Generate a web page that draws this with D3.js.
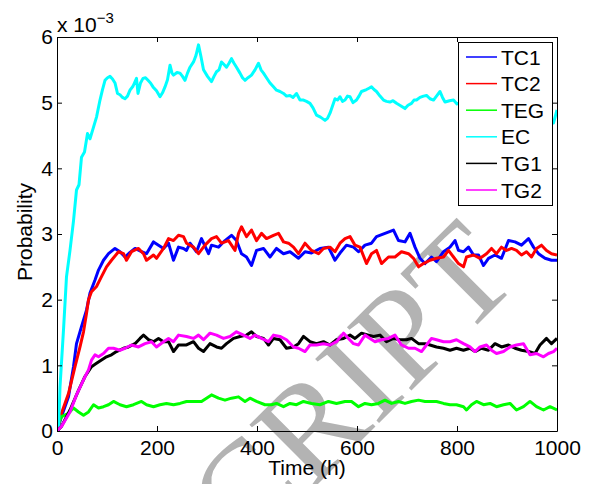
<!DOCTYPE html>
<html>
<head>
<meta charset="utf-8">
<script src="https://cdn.jsdelivr.net/npm/d3@7"></script>
<style>
  body { margin: 0; background: #fff; }
  svg { display: block; font-family: "Liberation Sans", Arial, sans-serif; }
  .axis text { font-size: 21px; fill: #000; }
  .axis path, .axis line { stroke: #000; stroke-width: 1; }
</style>
</head>
<body>
<div id="chart"></div>
<script>
// Series: [time (h), probability x 1e-3]
const TC1 = [[0,0],[9,0.22],[23,0.52],[33,0.98],[39,1.33],[49,1.59],[59,1.84],[66,2.1],[76,2.3],[83,2.45],[93,2.6],[103,2.7],[116,2.78],[126,2.73],[136,2.65],[146,2.72],[156,2.78],[169,2.73],[179,2.7],[193,2.88],[203,2.83],[213,2.78],[223,2.86],[233,2.6],[243,2.8],[253,2.78],[259,2.75],[266,2.86],[279,2.73],[289,2.93],[303,2.7],[309,2.83],[323,2.8],[336,2.9],[349,2.98],[359,2.9],[369,2.7],[379,2.65],[389,2.52],[399,2.75],[413,2.78],[426,2.65],[439,2.78],[453,2.7],[466,2.73],[483,2.63],[496,2.73],[509,2.71],[526,2.78],[543,2.8],[556,2.6],[566,2.71],[579,2.83],[593,2.8],[603,2.73],[616,2.83],[629,2.86],[639,2.96],[656,3.01],[673,3.06],[683,2.9],[696,2.88],[706,3.01],[716,2.8],[726,2.63],[736,2.55],[749,2.65],[759,2.58],[773,2.73],[786,2.8],[796,2.9],[803,2.75],[813,2.73],[823,2.8],[833,2.68],[843,2.68],[853,2.52],[863,2.63],[876,2.68],[889,2.63],[903,2.9],[916,2.88],[929,2.83],[943,2.93],[953,2.8],[963,2.7],[976,2.63],[989,2.6],[1000,2.6]];

const TC2 = [[0,0],[9,0.27],[23,0.57],[36,0.98],[46,1.28],[53,1.51],[59,1.79],[63,2.0],[69,2.12],[79,2.2],[89,2.35],[99,2.5],[109,2.6],[123,2.73],[133,2.7],[139,2.6],[149,2.73],[163,2.78],[173,2.7],[179,2.6],[193,2.68],[199,2.63],[213,2.78],[223,2.93],[233,2.9],[243,2.98],[253,2.96],[259,2.86],[273,2.8],[283,2.7],[296,2.83],[309,2.93],[319,2.96],[329,2.86],[343,2.9],[356,2.75],[363,3.01],[369,3.11],[379,2.96],[389,3.06],[399,2.9],[409,3.01],[419,2.93],[433,2.98],[443,3.01],[453,2.88],[463,2.86],[473,2.8],[483,2.7],[496,2.86],[509,2.75],[523,2.7],[533,2.78],[546,2.8],[556,2.73],[566,2.86],[576,2.93],[586,2.96],[596,2.83],[606,2.8],[619,2.55],[629,2.7],[639,2.75],[649,2.55],[663,2.65],[676,2.65],[689,2.73],[703,2.7],[713,2.63],[723,2.5],[733,2.55],[746,2.6],[759,2.63],[773,2.65],[783,2.75],[793,2.65],[803,2.55],[813,2.5],[819,2.65],[833,2.68],[846,2.63],[859,2.7],[869,2.78],[879,2.7],[889,2.8],[899,2.75],[909,2.78],[919,2.75],[929,2.68],[939,2.73],[949,2.65],[959,2.78],[969,2.83],[979,2.75],[989,2.7],[1000,2.68]];

const TEG = [[0,0],[3,0.12],[9,0.22],[23,0.27],[33,0.35],[43,0.29],[53,0.24],[63,0.29],[73,0.4],[83,0.35],[93,0.37],[103,0.4],[113,0.45],[126,0.4],[139,0.37],[153,0.4],[169,0.45],[179,0.4],[193,0.37],[206,0.4],[219,0.42],[233,0.4],[246,0.42],[259,0.45],[276,0.45],[289,0.45],[299,0.5],[309,0.55],[323,0.5],[336,0.47],[349,0.5],[363,0.52],[376,0.45],[386,0.5],[399,0.45],[416,0.4],[429,0.4],[439,0.42],[453,0.37],[466,0.42],[479,0.4],[493,0.45],[509,0.42],[526,0.4],[543,0.45],[559,0.42],[576,0.45],[589,0.45],[603,0.37],[616,0.42],[629,0.4],[643,0.42],[656,0.47],[669,0.42],[683,0.45],[696,0.42],[709,0.45],[723,0.47],[736,0.45],[749,0.45],[759,0.45],[773,0.42],[786,0.4],[799,0.4],[813,0.37],[819,0.32],[829,0.4],[839,0.45],[853,0.4],[866,0.42],[879,0.37],[893,0.4],[906,0.42],[919,0.32],[933,0.37],[946,0.45],[959,0.37],[973,0.32],[986,0.37],[1000,0.32]];

const EC = [[0,0],[3,0],[6,0.67],[13,1.54],[19,2.35],[26,2.75],[33,3.2],[39,3.67],[44,3.75],[49,4.17],[55,4.25],[61,4.53],[66,4.45],[72,4.6],[79,4.78],[86,5.04],[91,5.2],[96,5.34],[101,5.38],[106,5.4],[111,5.36],[116,5.3],[121,5.14],[126,5.12],[131,5.08],[136,5.06],[141,5.1],[146,5.19],[152,5.25],[159,5.37],[162,5.14],[167,5.3],[172,5.37],[177,5.38],[182,5.34],[187,5.3],[192,5.24],[199,5.18],[206,5.09],[211,5.15],[216,5.24],[221,5.35],[226,5.57],[230,5.45],[233,5.42],[240,5.46],[246,5.45],[251,5.4],[256,5.34],[261,5.45],[266,5.54],[273,5.62],[278,5.72],[283,5.88],[288,5.7],[293,5.5],[301,5.4],[309,5.32],[314,5.4],[319,5.47],[324,5.5],[329,5.62],[334,5.58],[339,5.54],[344,5.6],[349,5.67],[354,5.6],[359,5.54],[366,5.45],[371,5.38],[376,5.34],[382,5.38],[389,5.42],[396,5.5],[403,5.6],[408,5.5],[413,5.45],[419,5.38],[426,5.3],[432,5.25],[439,5.19],[446,5.17],[453,5.14],[459,5.1],[466,5.11],[472,5.08],[479,5.14],[486,5.04],[493,5.04],[499,5.02],[506,4.99],[512,4.92],[519,4.81],[527,4.78],[536,4.73],[541,4.76],[546,4.84],[551,4.95],[556,5.06],[561,5.04],[566,5.09],[571,5.02],[576,5.04],[581,5.1],[586,5.09],[592,5.0],[599,5.04],[604,5.1],[609,5.17],[619,5.2],[624,5.22],[629,5.24],[634,5.2],[639,5.17],[646,5.1],[653,5.04],[659,5.02],[666,5.01],[672,5.03],[679,4.99],[688,4.95],[696,4.91],[702,4.96],[709,4.99],[714,5.04],[719,5.04],[726,5.08],[733,5.1],[739,5.11],[746,5.06],[753,5.04],[759,5.1],[766,5.17],[771,5.08],[776,5.01],[785,5.03],[793,5.04],[800,4.98],[830,5.08],[860,4.95],[890,5.05],[920,4.92],[950,5.0],[975,4.88],[985,4.75],[993,4.69],[1000,4.89]];

const TG1 = [[0,0],[9,0.07],[26,0.32],[43,0.62],[56,0.83],[69,0.98],[79,1.03],[89,1.08],[99,1.13],[109,1.16],[119,1.21],[133,1.26],[143,1.28],[156,1.33],[166,1.41],[173,1.46],[183,1.39],[193,1.36],[203,1.41],[213,1.36],[223,1.36],[233,1.21],[243,1.31],[259,1.31],[273,1.36],[283,1.26],[293,1.21],[306,1.33],[319,1.28],[329,1.26],[339,1.33],[353,1.41],[366,1.44],[379,1.46],[389,1.51],[399,1.44],[413,1.41],[423,1.31],[433,1.41],[446,1.39],[459,1.26],[473,1.28],[483,1.33],[493,1.44],[506,1.36],[519,1.33],[533,1.36],[546,1.31],[559,1.39],[573,1.41],[586,1.46],[596,1.41],[609,1.49],[623,1.46],[633,1.44],[646,1.46],[659,1.36],[673,1.41],[686,1.39],[699,1.39],[709,1.41],[723,1.33],[736,1.33],[746,1.31],[759,1.28],[773,1.26],[786,1.23],[799,1.26],[813,1.23],[826,1.26],[836,1.21],[849,1.26],[863,1.23],[876,1.33],[889,1.28],[903,1.31],[916,1.26],[929,1.23],[943,1.21],[956,1.18],[966,1.31],[979,1.41],[989,1.33],[1000,1.41]];

const TG2 = [[0,0],[9,0.07],[26,0.29],[39,0.55],[53,0.78],[63,0.93],[69,1.08],[76,1.16],[83,1.13],[93,1.18],[103,1.26],[113,1.26],[126,1.23],[136,1.26],[149,1.31],[163,1.28],[176,1.33],[189,1.36],[199,1.28],[213,1.36],[223,1.41],[233,1.36],[243,1.46],[259,1.44],[273,1.41],[283,1.46],[293,1.39],[306,1.49],[319,1.46],[333,1.41],[346,1.44],[359,1.51],[373,1.46],[386,1.41],[396,1.46],[409,1.41],[423,1.36],[433,1.46],[446,1.44],[459,1.39],[473,1.28],[483,1.26],[496,1.21],[506,1.31],[519,1.31],[533,1.33],[546,1.31],[559,1.36],[573,1.49],[583,1.41],[593,1.33],[603,1.31],[616,1.46],[626,1.41],[636,1.36],[649,1.39],[663,1.41],[676,1.46],[689,1.31],[703,1.26],[716,1.26],[729,1.21],[739,1.31],[749,1.41],[759,1.39],[773,1.36],[786,1.36],[799,1.39],[813,1.33],[826,1.28],[836,1.21],[846,1.28],[859,1.31],[869,1.23],[879,1.18],[893,1.21],[906,1.28],[919,1.31],[933,1.33],[946,1.16],[959,1.18],[973,1.13],[983,1.18],[993,1.21],[1000,1.26]];

const seriesNames = ["TC1", "TC2", "TEG", "EC", "TG1", "TG2"];
const seriesData = [TC1, TC2, TEG, EC, TG1, TG2];
const seriesColors = ["#0000ff", "#ff0000", "#00ff00", "#00ffff", "#000000", "#ff00ff"];

const xTicks = [0, 200, 400, 600, 800, 1000];
const yTicks = [0, 1, 2, 3, 4, 5, 6];

const width = 591, height = 484;
const plot = { left: 57, right: 557, top: 37, bottom: 431 };

const svg = d3.select("#chart").append("svg")
  .attr("width", width)
  .attr("height", height);

const x = d3.scaleLinear().domain([0, 1000]).range([plot.left, plot.right]);
const y = d3.scaleLinear().domain([0, 6]).range([plot.bottom, plot.top]);

// watermark sits behind the curves
svg.append("text")
  .attr("transform", "translate(522,280) rotate(-45)")
  .attr("text-anchor", "end")
  .style("font-family", "'Liberation Serif', 'Times New Roman', serif")
  .style("font-size", "138px")
  .style("fill", "#b3b3b3")
  .text("ACCEPTED MANUSCRIPT");

svg.append("clipPath").attr("id", "plot-clip")
  .append("rect")
  .attr("x", plot.left).attr("y", plot.top)
  .attr("width", plot.right - plot.left)
  .attr("height", plot.bottom - plot.top);

const line = d3.line()
  .x(d => x(d[0]))
  .y(d => y(d[1]));

svg.append("g")
  .attr("clip-path", "url(#plot-clip)")
  .selectAll("path")
  .data(seriesData)
  .join("path")
  .attr("d", line)
  .attr("fill", "none")
  .attr("stroke", (d, i) => seriesColors[i])
  .attr("stroke-width", 3)
  .attr("stroke-linejoin", "round");

// axes, MATLAB style: ticks pointing inward on all four sides
svg.append("g").attr("class", "axis")
  .attr("transform", `translate(0,${plot.bottom})`)
  .call(d3.axisBottom(x).tickValues(xTicks).tickFormat(d3.format("d"))
    .tickSizeInner(-5).tickSizeOuter(0).tickPadding(9));

svg.append("g").attr("class", "axis")
  .attr("transform", `translate(${plot.left},0)`)
  .call(d3.axisLeft(y).tickValues(yTicks).tickFormat(d3.format("d"))
    .tickSizeInner(-5).tickSizeOuter(0).tickPadding(4));

svg.append("g").attr("class", "axis")
  .attr("transform", `translate(0,${plot.top})`)
  .call(d3.axisTop(x).tickValues(xTicks).tickSizeInner(-5).tickSizeOuter(0).tickFormat(""));

svg.append("g").attr("class", "axis")
  .attr("transform", `translate(${plot.right},0)`)
  .call(d3.axisRight(y).tickValues(yTicks).tickSizeInner(-5).tickSizeOuter(0).tickFormat(""));

// exponent label
const expo = svg.append("text")
  .attr("x", plot.left)
  .attr("y", 32)
  .style("font-size", "21px");
expo.append("tspan").text("x 10");
expo.append("tspan").attr("dy", -9).style("font-size", "15px").text("\u22123");

svg.append("text")
  .attr("x", 307)
  .attr("y", 475)
  .attr("text-anchor", "middle")
  .style("font-size", "21px")
  .text("Time (h)");

svg.append("text")
  .attr("transform", "translate(32,232) rotate(-90)")
  .attr("text-anchor", "middle")
  .style("font-size", "21px")
  .text("Probability");

// legend
const legend = svg.append("g");
legend.append("rect")
  .attr("x", 458.5).attr("y", 42.5)
  .attr("width", 94).attr("height", 163)
  .attr("fill", "#fff")
  .attr("stroke", "#000");

const entry = legend.selectAll("g.entry")
  .data(seriesNames)
  .join("g")
  .attr("class", "entry")
  .attr("transform", (d, i) => `translate(0,${57 + i * 26.6})`);

entry.append("line")
  .attr("x1", 466).attr("x2", 497)
  .attr("stroke", (d, i) => seriesColors[i])
  .attr("stroke-width", 1.5);

entry.append("text")
  .attr("x", 501)
  .attr("dy", "0.36em")
  .style("font-size", "21px")
  .text(d => d);
</script>
</body>
</html>
